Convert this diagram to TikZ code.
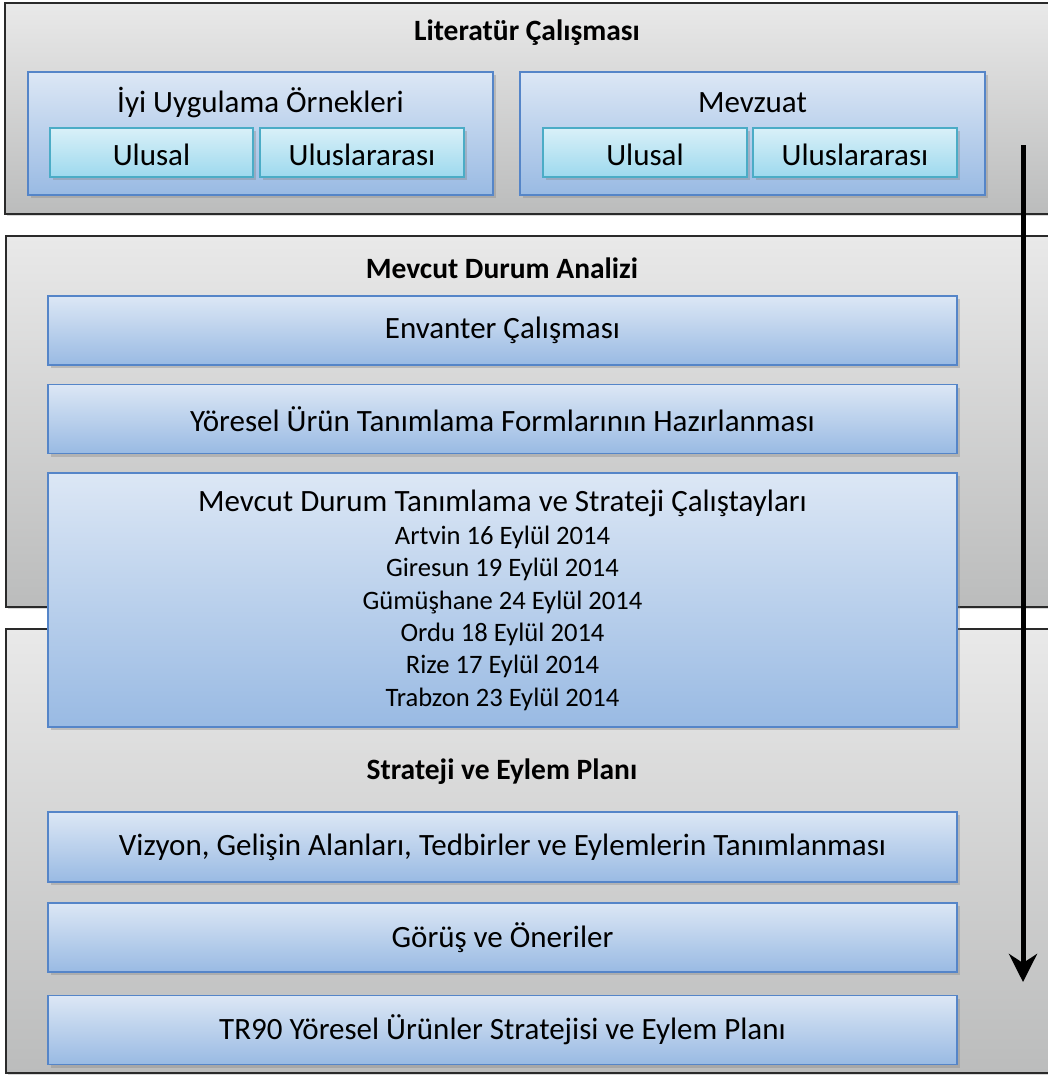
\documentclass[tikz,border=0pt]{standalone}
\usepackage{fontspec}
\setmainfont{Carlito}
\usetikzlibrary{shadows,arrows.meta}
\definecolor{panelborder}{HTML}{2A2A2A}
\definecolor{paneltop}{HTML}{E9E9E9}
\definecolor{panelbot}{HTML}{BBBCBC}
\definecolor{bluetop}{HTML}{DCE7F5}
\definecolor{bluebot}{HTML}{99BAE3}
\definecolor{blueline}{HTML}{5585C8}
\definecolor{cyantop}{HTML}{D9F0F8}
\definecolor{cyanbot}{HTML}{9DD9EE}
\definecolor{cyanline}{HTML}{4BACC6}
\tikzset{
  panel/.style={draw=panelborder, line width=1.5pt, top color=paneltop, bottom color=panelbot, inner sep=0pt, drop shadow={shadow xshift=2pt, shadow yshift=-2pt, opacity=0.3}},
  bluebox/.style={draw=blueline, line width=1.5pt, top color=bluetop, bottom color=bluebot, inner sep=0pt, font=\fontsize{31}{37}\selectfont, drop shadow={shadow xshift=2.5pt, shadow yshift=-3pt, opacity=0.35}},
  cyanbox/.style={draw=cyanline, line width=1.5pt, top color=cyantop, bottom color=cyanbot, inner sep=0pt, font=\fontsize{31}{37}\selectfont, text height=25pt, text depth=0pt, drop shadow={shadow xshift=2.5pt, shadow yshift=-3pt, opacity=0.35}},
  paneltitle/.style={font=\fontsize{29.5}{35}\selectfont\bfseries, inner sep=0pt},
  boxlabel/.style={font=\fontsize{31}{37}\selectfont, inner sep=0pt},
}
\begin{document}
\begin{tikzpicture}[x=1pt,y=-1pt]
\useasboundingbox (0,0) rectangle (1048,1076);
\clip (0,0) rectangle (1048,1076);
\fill[white] (0,0) rectangle (1048,1076);
% panels
\node[panel, minimum width=1055, minimum height=211] (p1) at (532.5,108.5) {};
\node[panel, minimum width=1054, minimum height=371] (p2) at (533,421.5) {};
\node[panel, minimum width=1054, minimum height=444] (p3) at (533,851) {};
% panel 1 content
\node[paneltitle] (t1) at (527,33) {Literatür Çalışması};
\node[bluebox, minimum width=465, minimum height=123] (iyi) at (260.5,133.5) {};
\node[boxlabel] (iyil) at (260.5,103) {İyi Uygulama Örnekleri};
\node[cyanbox, minimum width=203, minimum height=49] (iu1) at (151.5,152.5) {Ulusal};
\node[cyanbox, minimum width=204, minimum height=49] (iu2) at (362,152.5) {Uluslararası};
\node[bluebox, minimum width=465, minimum height=123] (mev) at (752.5,133.5) {};
\node[boxlabel] (mevl) at (752.5,103) {Mevzuat};
\node[cyanbox, minimum width=204, minimum height=49] (mu1) at (645,152.5) {Ulusal};
\node[cyanbox, minimum width=204, minimum height=49] (mu2) at (855,152.5) {Uluslararası};
% panel 2 content
\node[paneltitle] (t2) at (502,268) {Mevcut Durum Analizi};
\node[bluebox, minimum width=909, minimum height=69] (env) at (502.5,330.5) {Envanter Çalışması};
\node[bluebox, minimum width=909, minimum height=69] (yor) at (502.5,419) {Yöresel Ürün Tanımlama Formlarının Hazırlanması};
% panel 3 content
\node[paneltitle] (t3) at (502,772) {Strateji ve Eylem Planı};
\node[bluebox, minimum width=909, minimum height=70] (viz) at (502.5,847) {Vizyon, Gelişin Alanları, Tedbirler ve Eylemlerin Tanımlanması};
\node[bluebox, minimum width=909, minimum height=69] (gor) at (502.5,937.5) {Görüş ve Öneriler};
\node[bluebox, minimum width=909, minimum height=69] (tr) at (502.5,1030) {TR90 Yöresel Ürünler Stratejisi ve Eylem Planı};
% big box over panels 2 and 3
\node[bluebox, minimum width=909, minimum height=254, align=center, font=\fontsize{26.6}{32.3}\selectfont] (cal) at (502.5,600)
  {{\fontsize{31}{37}\selectfont Mevcut Durum Tanımlama ve Strateji Çalıştayları}\\[1pt]
   Artvin 16 Eylül 2014\\
   Giresun 19 Eylül 2014\\
   Gümüşhane 24 Eylül 2014\\
   Ordu 18 Eylül 2014\\
   Rize 17 Eylül 2014\\
   Trabzon 23 Eylül 2014};
% arrow
\coordinate (as) at (1023,145);
\coordinate (ae) at (1023,982);
\draw[line width=5pt, -{Stealth[length=28pt,width=28pt,inset=9pt]}] (as) -- (ae);
\end{tikzpicture}
\end{document}
